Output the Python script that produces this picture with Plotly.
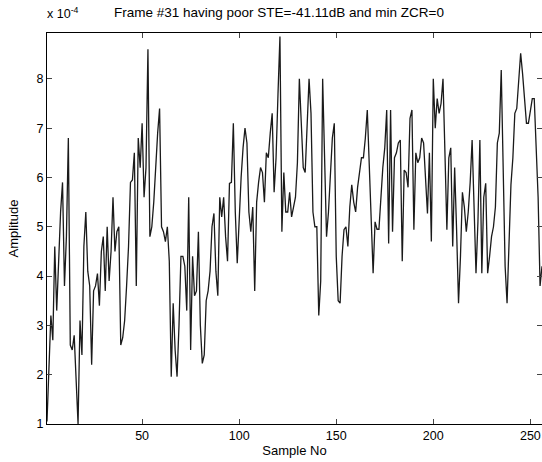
import plotly.graph_objects as go

# amplitude values of the frame, in units of 1e-4
amp_001_050 = [1.05, 2.0, 3.2, 2.7, 4.6, 3.3, 4.5, 5.3, 5.9, 3.8,
               4.8, 6.8, 2.6, 2.5, 2.8, 1.9, 1.0, 3.1, 2.4, 4.6,
               5.3, 4.1, 3.8, 2.2, 3.7, 3.8, 4.05, 3.4, 4.5, 4.8,
               3.7, 5.0, 3.9, 4.5, 5.6, 4.5, 4.9, 5.0, 2.6, 2.75,
               3.1, 3.8, 4.6, 5.9, 5.95, 6.5, 3.8, 6.8, 6.2, 7.1]
amp_051_100 = [5.6, 6.2, 8.6, 4.8, 5.0, 5.5, 6.3, 6.9, 7.4, 5.0,
               4.9, 4.7, 5.0, 4.3, 1.96, 3.45, 2.5, 1.96, 3.0, 4.4,
               4.4, 4.2, 3.3, 5.6, 2.5, 4.4, 3.6, 3.7, 4.9, 3.0,
               2.23, 2.4, 3.5, 3.7, 4.1, 5.0, 5.27, 4.1, 3.6, 5.6,
               5.2, 5.6, 4.8, 4.3, 5.88, 5.9, 7.1, 5.3, 4.26, 5.2]
amp_101_150 = [6.0, 6.6, 7.0, 6.7, 5.3, 4.9, 5.4, 3.7, 5.5, 5.9,
               6.2, 6.1, 5.5, 6.5, 6.4, 6.9, 7.3, 5.7, 6.4, 7.7,
               8.86, 4.9, 6.1, 5.3, 5.3, 5.7, 5.2, 5.4, 5.6, 6.3,
               8.0, 7.1, 6.2, 6.1, 7.0, 8.0, 7.3, 5.3, 5.0, 5.0,
               3.2, 3.9, 8.0, 6.3, 4.8, 5.3, 6.0, 6.8, 7.1, 4.4]
amp_151_200 = [3.5, 3.45, 4.4, 4.94, 5.0, 4.6, 5.4, 5.85, 5.5, 5.3,
               5.8, 6.1, 6.4, 6.4, 6.8, 7.37, 6.3, 5.2, 4.06, 5.1,
               4.95, 4.95, 5.6, 6.2, 6.6, 7.37, 4.66, 7.37, 4.9, 6.4,
               6.5, 6.7, 6.76, 4.3, 6.15, 6.1, 5.8, 7.2, 7.37, 4.94,
               6.5, 6.3, 6.4, 6.8, 6.7, 5.9, 5.27, 6.5, 4.7, 8.0]
amp_201_256 = [7.0, 7.6, 7.3, 7.5, 8.0, 6.5, 4.94, 6.4, 6.6, 4.6,
               6.2, 4.94, 3.45, 4.4, 5.7, 5.4, 4.9, 5.3, 5.9, 6.76,
               5.2, 4.06, 5.1, 6.76, 4.06, 5.6, 5.88, 4.06, 4.4, 4.8,
               5.0, 5.4, 6.7, 6.9, 8.18, 6.3, 4.2, 3.45, 4.7, 5.85,
               6.4, 7.3, 7.4, 8.0, 8.52, 8.1, 7.6, 7.1, 7.1, 7.4,
               7.6, 7.6, 6.76, 5.6, 3.8, 4.2]

x_ticks = [50, 100, 150, 200, 250]
y_ticks = [1, 2, 3, 4, 5, 6, 7, 8]

amp = amp_001_050 + amp_051_100 + amp_101_150 + amp_151_200 + amp_201_256
samples = list(range(1, len(amp) + 1))
amp_scaled = [v * 1e-4 for v in amp]

fnt = "Liberation Sans, Arial, sans-serif"

fig = go.Figure()
fig.add_trace(go.Scatter(x=samples, y=amp_scaled, mode="lines",
                         line=dict(color="#1a1a1a", width=1.3),
                         showlegend=False, hoverinfo="skip"))

fig.update_layout(
    width=542, height=462,
    margin=dict(l=47, r=0, t=33, b=38),
    plot_bgcolor="white", paper_bgcolor="white",
    font=dict(family=fnt, size=12.5, color="black"),
)

fig.update_xaxes(
    range=[1, 256], tickvals=x_ticks, ticks="inside", ticklen=5,
    showline=True, mirror="ticks", linecolor="black", linewidth=1,
    showgrid=False, zeroline=False,
    title=dict(text="Sample No", font=dict(size=13), standoff=3),
)
fig.update_yaxes(
    range=[1e-4, 8.93e-4],
    tickvals=[t * 1e-4 for t in y_ticks], ticktext=[str(t) for t in y_ticks],
    ticks="inside", ticklen=5,
    showline=True, mirror="ticks", linecolor="black", linewidth=1,
    showgrid=False, zeroline=False,
    title=dict(text="Amplitude", font=dict(size=13), standoff=14),
)

# title and exponent label, placed like the matlab figure
fig.add_annotation(text="Frame #31 having poor STE=-41.11dB and min ZCR=0",
                   xref="paper", yref="paper", x=0.469, y=1.052,
                   xanchor="center", yanchor="middle", showarrow=False,
                   font=dict(size=13.5))
fig.add_annotation(text="x 10<sup>-4</sup>",
                   xref="paper", yref="paper", x=-0.005, y=1.05,
                   xanchor="left", yanchor="middle", showarrow=False,
                   font=dict(size=12.5))

# drop the default body margin so the figure sits at the page corner
fig.write_html("out.html", config={"displayModeBar": False},
               post_script="document.body.style.margin='0';")
